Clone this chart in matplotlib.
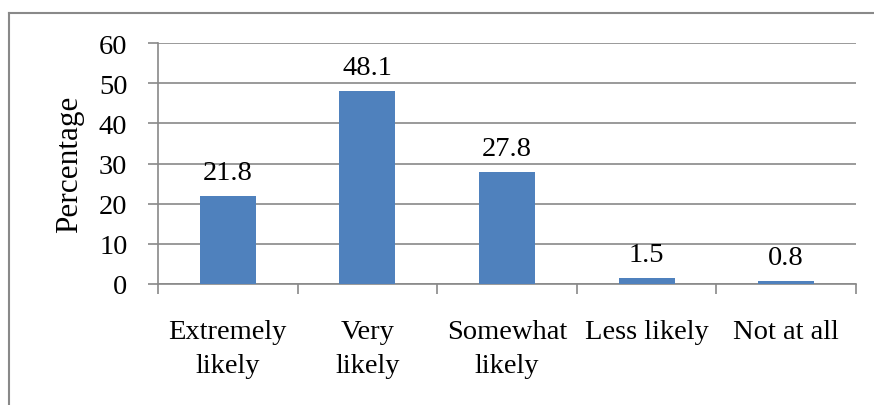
import numpy as np
import matplotlib
matplotlib.use("Agg")
import matplotlib.pyplot as plt
from matplotlib.lines import Line2D

categories = ["Extremely\nlikely", "Very\nlikely", "Somewhat\nlikely", "Less likely", "Not at all"]
values = [21.8, 48.1, 27.8, 1.5, 0.8]
yticks = [0, 10, 20, 30, 40, 50, 60]

plt.rcParams['font.family'] = ['Liberation Serif', 'DejaVu Serif']
plt.rcParams['font.size'] = 20.5

grey = '#898989'
fig = plt.figure(figsize=(8.74, 4.06), dpi=100)
ax = fig.add_axes([158/874, 1-285/406, (856-158)/874, (285-44)/406])

x = np.arange(len(categories))
bars = ax.bar(x, values, width=0.4, color='#4F81BD', zorder=3)
for xi, v in zip(x, values):
    ax.annotate(f"{v}", (xi, v), xytext=(0, 8), textcoords='offset points',
                ha='center', va='bottom', fontsize=20.5)

ax.set_xlim(-0.5, len(categories)-0.5)
ax.set_ylim(0, 60)
ax.set_yticks(yticks)
ax.yaxis.grid(True, color=grey, linewidth=1.2, zorder=0)
ax.set_axisbelow(True)

ax.set_xticks(x)
ax.set_xticklabels(categories, linespacing=1.5)
ax.set_xticks(np.arange(len(categories)+1)-0.5, minor=True)
ax.tick_params(axis='x', which='major', length=0, pad=25)
ax.tick_params(axis='x', which='minor', length=7, width=1.2, color=grey)
ax.tick_params(axis='y', length=7, width=1.2, color=grey, pad=15)

for s in ['top', 'right']:
    ax.spines[s].set_visible(False)
for s in ['left', 'bottom']:
    ax.spines[s].set_color(grey)
    ax.spines[s].set_linewidth(1.2)

ax.set_ylabel("Percentage", labelpad=11, fontsize=22.5)

# outer chart border (clipped on right and bottom)
fig.add_artist(Line2D([9/874, 9/874], [0, 1-14/406], transform=fig.transFigure, color=grey, linewidth=1.5))
fig.add_artist(Line2D([9/874, 1], [1-14/406, 1-14/406], transform=fig.transFigure, color=grey, linewidth=1.5))

fig.savefig("out.png", dpi=100)
